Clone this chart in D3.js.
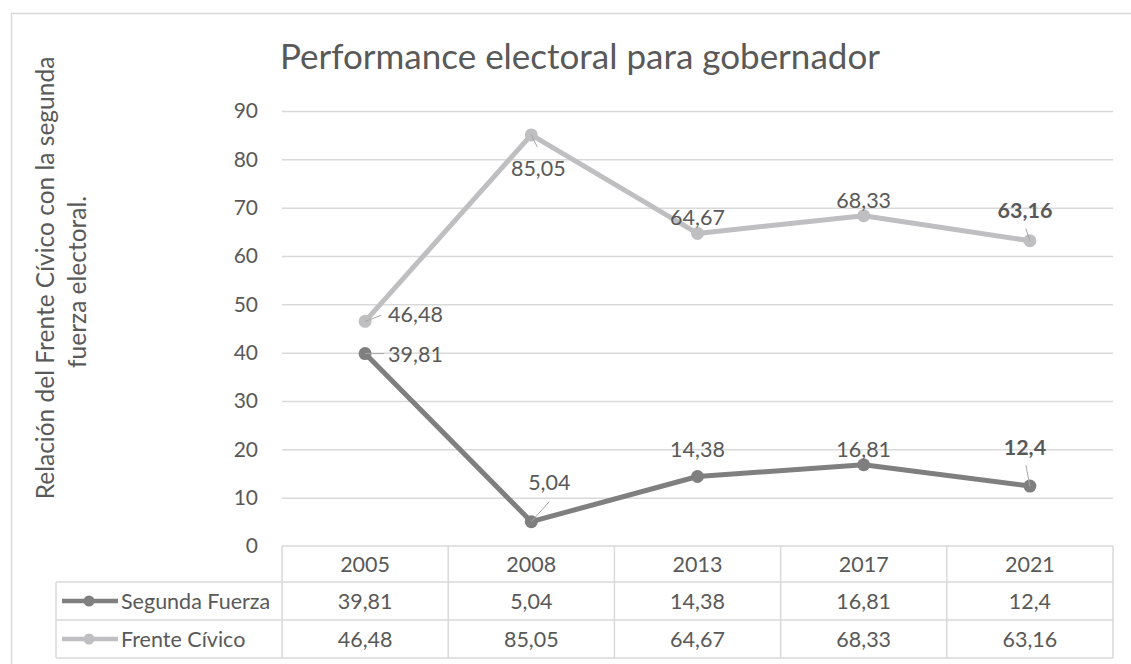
<!DOCTYPE html>
<html>
<head>
<meta charset="utf-8">
<script src="https://cdn.jsdelivr.net/npm/d3@7"></script>
<style>
  html, body { margin: 0; padding: 0; background: #fff; }
  svg { display: block; font-family: Lato, "Open Sans", sans-serif; }
</style>
</head>
<body>
<script>
const years = ["2005", "2008", "2013", "2017", "2021"];
const seriesNames = ["Segunda Fuerza", "Frente Cívico"];
const segundaFuerza = [39.81, 5.04, 14.38, 16.81, 12.4];
const frenteCivico = [46.48, 85.05, 64.67, 68.33, 63.16];
const yTicks = [0, 10, 20, 30, 40, 50, 60, 70, 80, 90];
const title = "Performance electoral para gobernador";
const yLabel = ["Relación del Frente Cívico con la segunda", "fuerza electoral."];

const W = 1131, H = 664;
const textColor = "#595959";
const gridColor = "#d9d9d9";
const colors = ["#7f7f80", "#bfbfc1"];
const fs = "21.5px";

const svg = d3.select("body")
    .append("svg")
    .attr("width", W)
    .attr("height", H);

// outer chart border (clipped by the window at right/bottom)
svg.append("rect")
    .attr("x", 11.5)
    .attr("y", 13.5)
    .attr("width", 1130)
    .attr("height", 700)
    .attr("fill", "none")
    .attr("stroke", gridColor)
    .attr("stroke-width", 1.5);

const plotL = 282, plotR = 1113, plotT = 111, plotB = 546;

const x = d3.scaleBand().domain(years).range([plotL, plotR]);
const y = d3.scaleLinear().domain([0, 90]).range([plotB, plotT]);
const cx = d => x(d) + x.bandwidth() / 2;

// title
svg.append("text")
    .attr("x", 280)
    .attr("y", 69)
    .text(title)
    .attr("font-size", "35px")
    .attr("fill", textColor);

// y axis label (two lines)
yLabel.forEach((t, i) => {
    const lx = 54 + i * 32, ly = 278 + i * 4;
    svg.append("text")
        .attr("transform", `translate(${lx},${ly}) rotate(-90)`)
        .attr("text-anchor", "middle")
        .text(t)
        .attr("font-size", "24.5px")
        .attr("fill", textColor);
});

// y axis with gridlines
const yAxis = d3.axisLeft(y)
    .tickValues(yTicks)
    .tickSize(-(plotR - plotL))
    .tickPadding(24)
    .tickFormat(d3.format("d"));

const gy = svg.append("g")
    .attr("transform", `translate(${plotL},0)`)
    .call(yAxis);
gy.select(".domain").remove();
gy.selectAll(".tick line")
    .attr("stroke", gridColor)
    .attr("stroke-width", 1.5)
    .filter(d => d === 0).remove();
gy.selectAll(".tick text")
    .attr("fill", textColor)
    .attr("font-size", "21px")
    .attr("font-family", "Lato, sans-serif");

// data table
const tableTop = plotB, rowH = [36, 38, 38], tableL = 56;
const rowY = [tableTop, tableTop + rowH[0], tableTop + rowH[0] + rowH[1], tableTop + rowH[0] + rowH[1] + rowH[2]];
const tbl = svg.append("g")
    .attr("stroke", gridColor)
    .attr("stroke-width", 1.5)
    .attr("fill", "none");

tbl.append("line").attr("x1", plotL).attr("x2", plotR).attr("y1", rowY[0]).attr("y2", rowY[0]);
[1, 2, 3].forEach(i => {
    tbl.append("line").attr("x1", tableL).attr("x2", plotR).attr("y1", rowY[i]).attr("y2", rowY[i]);
});
tbl.append("line").attr("x1", tableL).attr("x2", tableL).attr("y1", rowY[1]).attr("y2", rowY[3]);
years.forEach(yr => {
    tbl.append("line").attr("x1", x(yr)).attr("x2", x(yr)).attr("y1", rowY[0]).attr("y2", rowY[3]);
});
tbl.append("line").attr("x1", plotR).attr("x2", plotR).attr("y1", rowY[0]).attr("y2", rowY[3]);

const fmt = v => String(v).replace(".", ",");

svg.append("g").selectAll("text")
    .data(years)
    .join("text")
    .attr("x", d => cx(d))
    .attr("y", (rowY[0] + rowY[1]) / 2 + 7.5)
    .attr("text-anchor", "middle")
    .attr("font-size", fs)
    .attr("fill", textColor)
    .text(d => d);

const allSeries = [segundaFuerza, frenteCivico];

allSeries.forEach((vals, s) => {
    const rowMid = (rowY[s + 1] + rowY[s + 2]) / 2;
    svg.append("g").selectAll("text")
        .data(vals)
        .join("text")
        .attr("x", (d, i) => cx(years[i]))
        .attr("y", rowMid + 7.5)
        .attr("text-anchor", "middle")
        .attr("font-size", fs)
        .attr("fill", textColor)
        .text(d => fmt(d));

    // legend key
    svg.append("line")
        .attr("x1", 62).attr("x2", 118)
        .attr("y1", rowMid).attr("y2", rowMid)
        .attr("stroke", colors[s])
        .attr("stroke-width", 4.5);
    svg.append("circle")
        .attr("cx", 89).attr("cy", rowMid).attr("r", 5.5)
        .attr("fill", colors[s]);
    svg.append("text")
        .attr("x", 121)
        .attr("y", rowMid + 7.5)
        .attr("font-size", fs)
        .attr("fill", textColor)
        .text(seriesNames[s]);
});

// lines and markers
const line = d3.line()
    .x((d, i) => cx(years[i]))
    .y(d => y(d));

allSeries.forEach((vals, s) => {
    svg.append("path")
        .attr("d", line(vals))
        .attr("fill", "none")
        .attr("stroke", colors[s])
        .attr("stroke-width", 5)
        .attr("stroke-linejoin", "round");
    svg.append("g").selectAll("circle")
        .data(vals)
        .join("circle")
        .attr("cx", (d, i) => cx(years[i]))
        .attr("cy", d => y(d))
        .attr("r", 6.5)
        .attr("fill", colors[s]);
});

// data label placement: offsets from the point (label anchor), leader line end
const labelPos = [
    [ // Segunda Fuerza
        { dx: 23, dy: 8, anchor: "start", lead: [19, 0] },
        { dx: 18, dy: -32, anchor: "middle", lead: [18, -20] },
        { dx: 0, dy: -19, anchor: "middle" },
        { dx: 0, dy: -8, anchor: "middle" },
        { dx: -5, dy: -31, anchor: "middle", bold: true, lead: [-4, -21] }
    ],
    [ // Frente Cívico
        { dx: 23, dy: 1, anchor: "start", lead: [16, -6] },
        { dx: 7, dy: 41, anchor: "middle", lead: [6, 12] },
        { dx: 0, dy: -8, anchor: "middle" },
        { dx: 0, dy: -8, anchor: "middle" },
        { dx: -5, dy: -23, anchor: "middle", bold: true, lead: [-4, -12] }
    ]
];

allSeries.forEach((vals, s) => {
    vals.forEach((v, i) => {
        const px = cx(years[i]), py = y(v), p = labelPos[s][i];
        if (p.lead) {
            svg.append("line")
                .attr("x1", px).attr("y1", py)
                .attr("x2", px + p.lead[0]).attr("y2", py + p.lead[1])
                .attr("stroke", "#a6a6a6")
                .attr("stroke-width", 1);
        }
        svg.append("text")
            .attr("x", px + p.dx)
            .attr("y", py + p.dy)
            .attr("text-anchor", p.anchor)
            .attr("font-size", fs)
            .attr("font-weight", p.bold ? "bold" : "normal")
            .attr("fill", textColor)
            .text(fmt(v));
    });
});
</script>
</body>
</html>
